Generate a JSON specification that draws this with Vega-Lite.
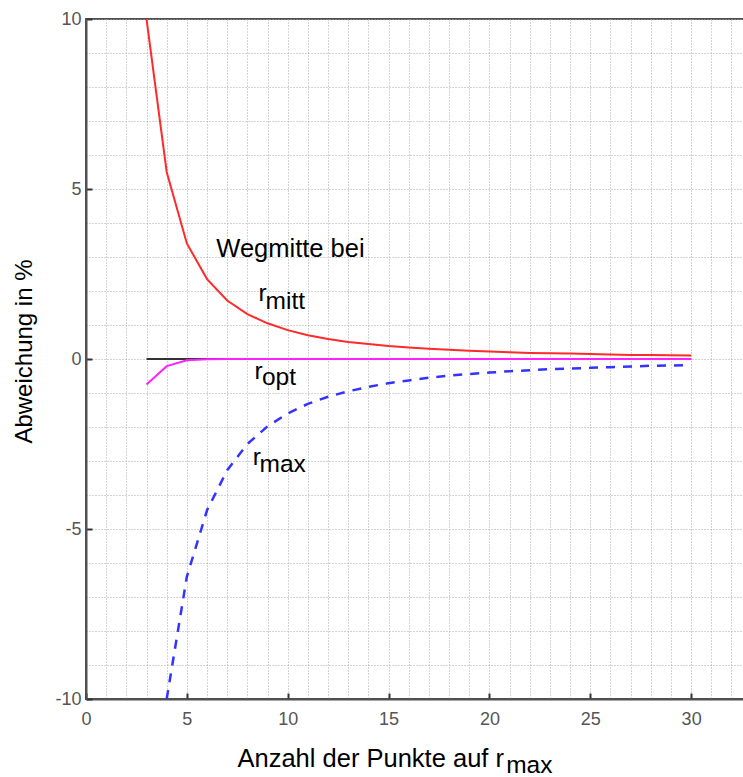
{
  "$schema": "https://vega.github.io/schema/vega-lite/v6.json",
  "autosize": "none",
  "padding": {"left": 86, "top": 19, "right": 0, "bottom": 78},
  "width": 660,
  "height": 680,
  "background": "white",
  "config": {
    "view": {"stroke": "#505050", "strokeWidth": 2},
    "font": "Liberation Sans",
    "axis": {"labelFont": "Liberation Sans", "titleFont": "Liberation Sans"}
  },
  "datasets": {
    "curves": [
      {"x": 3, "y": 0, "s": "ref"}, {"x": 30, "y": 0, "s": "ref"},
      {"x": 3, "y": -0.75, "s": "opt"}, {"x": 4, "y": -0.21, "s": "opt"}, {"x": 5, "y": -0.04, "s": "opt"}, {"x": 6, "y": -0.01, "s": "opt"}, {"x": 7, "y": 0, "s": "opt"}, {"x": 10, "y": 0, "s": "opt"}, {"x": 15, "y": 0, "s": "opt"}, {"x": 20, "y": 0, "s": "opt"}, {"x": 25, "y": 0, "s": "opt"}, {"x": 30, "y": 0, "s": "opt"},
      {"x": 3, "y": 10, "s": "mitt"}, {"x": 4, "y": 5.5, "s": "mitt"}, {"x": 5, "y": 3.4, "s": "mitt"}, {"x": 6, "y": 2.35, "s": "mitt"}, {"x": 7, "y": 1.72, "s": "mitt"}, {"x": 8, "y": 1.32, "s": "mitt"}, {"x": 9, "y": 1.05, "s": "mitt"}, {"x": 10, "y": 0.85, "s": "mitt"}, {"x": 11, "y": 0.7, "s": "mitt"}, {"x": 12, "y": 0.59, "s": "mitt"}, {"x": 13, "y": 0.5, "s": "mitt"}, {"x": 14, "y": 0.44, "s": "mitt"}, {"x": 15, "y": 0.38, "s": "mitt"}, {"x": 16, "y": 0.34, "s": "mitt"}, {"x": 17, "y": 0.3, "s": "mitt"}, {"x": 18, "y": 0.27, "s": "mitt"}, {"x": 19, "y": 0.24, "s": "mitt"}, {"x": 20, "y": 0.22, "s": "mitt"}, {"x": 21, "y": 0.2, "s": "mitt"}, {"x": 22, "y": 0.18, "s": "mitt"}, {"x": 23, "y": 0.17, "s": "mitt"}, {"x": 24, "y": 0.16, "s": "mitt"}, {"x": 25, "y": 0.15, "s": "mitt"}, {"x": 26, "y": 0.13, "s": "mitt"}, {"x": 27, "y": 0.12, "s": "mitt"}, {"x": 28, "y": 0.115, "s": "mitt"}, {"x": 29, "y": 0.11, "s": "mitt"}, {"x": 30, "y": 0.1, "s": "mitt"},
      {"x": 4, "y": -10, "s": "max"}, {"x": 5, "y": -6.4, "s": "max"}, {"x": 6, "y": -4.45, "s": "max"}, {"x": 7, "y": -3.27, "s": "max"}, {"x": 8, "y": -2.5, "s": "max"}, {"x": 9, "y": -1.98, "s": "max"}, {"x": 10, "y": -1.6, "s": "max"}, {"x": 11, "y": -1.32, "s": "max"}, {"x": 12, "y": -1.11, "s": "max"}, {"x": 13, "y": -0.95, "s": "max"}, {"x": 14, "y": -0.82, "s": "max"}, {"x": 15, "y": -0.71, "s": "max"}, {"x": 16, "y": -0.63, "s": "max"}, {"x": 17, "y": -0.55, "s": "max"}, {"x": 18, "y": -0.49, "s": "max"}, {"x": 19, "y": -0.44, "s": "max"}, {"x": 20, "y": -0.4, "s": "max"}, {"x": 21, "y": -0.36, "s": "max"}, {"x": 22, "y": -0.33, "s": "max"}, {"x": 23, "y": -0.3, "s": "max"}, {"x": 24, "y": -0.28, "s": "max"}, {"x": 25, "y": -0.26, "s": "max"}, {"x": 26, "y": -0.24, "s": "max"}, {"x": 27, "y": -0.22, "s": "max"}, {"x": 28, "y": -0.2, "s": "max"}, {"x": 29, "y": -0.19, "s": "max"}, {"x": 30, "y": -0.18, "s": "max"}
    ],
    "labels": [
      {"x": 6.46, "y": 3.01, "t": "Wegmitte bei", "g": "big"},
      {"x": 8.55, "y": 1.72, "t": "r", "g": "sub"},
      {"x": 8.9, "y": 1.46, "t": "mitt", "g": "sub"},
      {"x": 8.35, "y": -0.59, "t": "r", "g": "sub"},
      {"x": 8.72, "y": -0.76, "t": "opt", "g": "sub"},
      {"x": 8.27, "y": -3.12, "t": "r", "g": "sub"},
      {"x": 8.6, "y": -3.31, "t": "max", "g": "sub"},
      {"x": 7.51, "y": -11.99, "t": "Anzahl der Punkte auf r", "g": "big"},
      {"x": 20.83, "y": -12.17, "t": "max", "g": "sub"}
    ]
  },
  "encoding": {
    "x": {"field": "x", "type": "quantitative", "scale": {"domain": [0, 32.72], "nice": false, "zero": false},
      "axis": {"orient": "bottom", "title": null, "values": [0,1,2,3,4,5,6,7,8,9,10,11,12,13,14,15,16,17,18,19,20,21,22,23,24,25,26,27,28,29,30,31,32],
        "labelExpr": "datum.value % 5 === 0 ? '' + datum.value : ''", "labelOverlap": false, "labelBound": false, "labelFlush": false,
        "labelFontSize": 18, "labelColor": "#555555", "labelPadding": 17,
        "grid": true, "gridColor": "#a8a8a8", "gridDash": [1, 2], "gridWidth": 1,
        "domainColor": "#505050", "domainWidth": 2,
        "tickColor": "#333333", "tickWidth": 2, "tickSize": -6,
        "tickOpacity": {"condition": {"test": "datum.value % 5 === 0", "value": 1}, "value": 0}}},
    "y": {"field": "y", "type": "quantitative", "scale": {"domain": [-10, 10], "nice": false, "zero": false},
      "axis": {"title": "Abweichung in %", "titleFontSize": 24, "titleFontWeight": "normal", "titleColor": "#000000",
        "titleAngle": 270, "titleBaseline": "alphabetic", "titleAlign": "center", "titleX": -55, "titleY": 332,
        "values": [-10,-9,-8,-7,-6,-5,-4,-3,-2,-1,0,1,2,3,4,5,6,7,8,9,10],
        "labelExpr": "datum.value % 5 === 0 ? '' + datum.value : ''", "labelOverlap": false, "labelBound": false, "labelFlush": false,
        "labelFontSize": 18, "labelColor": "#555555", "labelPadding": 11,
        "grid": true, "gridColor": "#a8a8a8", "gridDash": [1, 2], "gridWidth": 1,
        "domainColor": "#505050", "domainWidth": 2,
        "tickColor": "#333333", "tickWidth": 2, "tickSize": -6,
        "tickOpacity": {"condition": {"test": "datum.value % 5 === 0", "value": 1}, "value": 0}}}
  },
  "layer": [
    {
      "data": {"name": "curves"},
      "transform": [{"filter": "datum.s === 'ref'"}],
      "mark": {"type": "line", "color": "#333333", "strokeWidth": 2, "clip": true}
    },
    {
      "data": {"name": "curves"},
      "transform": [{"filter": "datum.s === 'opt'"}],
      "mark": {"type": "line", "color": "#ff22ff", "strokeWidth": 2, "clip": true}
    },
    {
      "data": {"name": "curves"},
      "transform": [{"filter": "datum.s === 'mitt'"}],
      "mark": {"type": "line", "color": "#ff2a2a", "strokeWidth": 2, "clip": true}
    },
    {
      "data": {"name": "curves"},
      "transform": [{"filter": "datum.s === 'max'"}],
      "mark": {"type": "line", "color": "#3333ff", "strokeWidth": 2.5, "strokeDash": [9, 8], "clip": true}
    },
    {
      "data": {"name": "labels"},
      "transform": [{"filter": "datum.g === 'big'"}],
      "mark": {"type": "text", "align": "left", "baseline": "alphabetic", "fontSize": 25.5, "font": "Liberation Sans", "color": "#000000"},
      "encoding": {"text": {"field": "t"}}
    },
    {
      "data": {"name": "labels"},
      "transform": [{"filter": "datum.g === 'sub'"}],
      "mark": {"type": "text", "align": "left", "baseline": "alphabetic", "fontSize": 24.5, "font": "Liberation Sans", "color": "#000000"},
      "encoding": {"text": {"field": "t"}}
    }
  ]
}
